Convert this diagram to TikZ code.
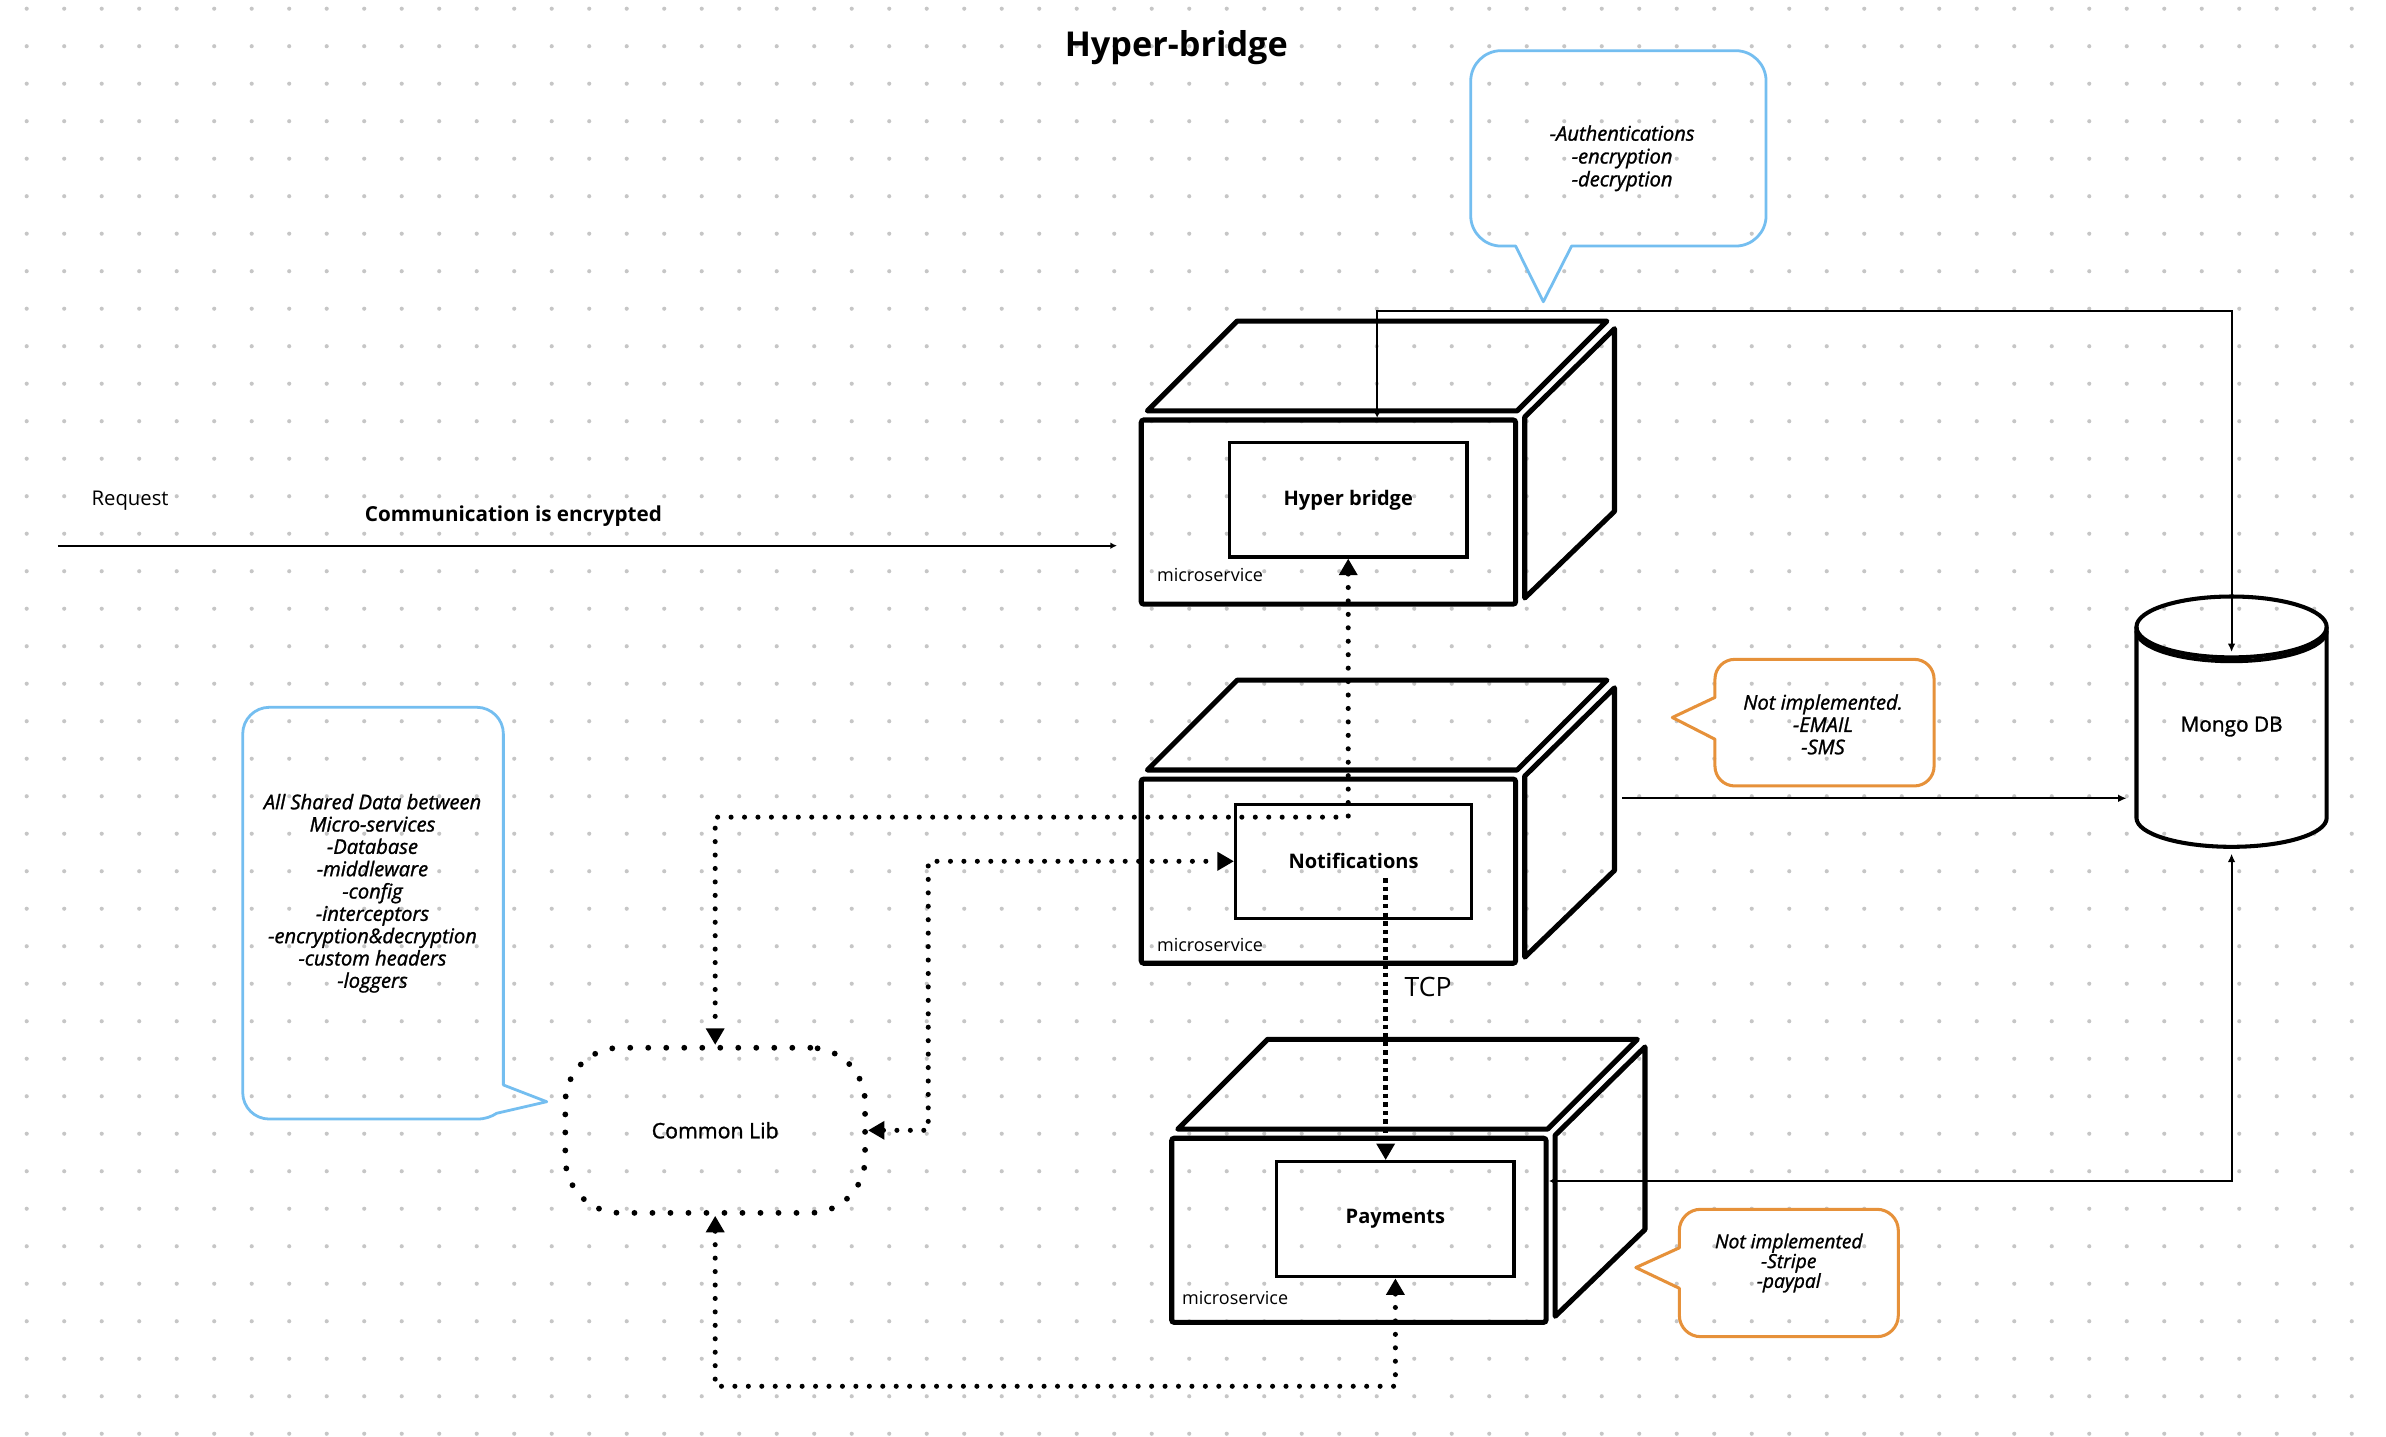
\documentclass[tikz,border=0pt]{standalone}
\usepackage{fontspec}
\setmainfont{Open Sans}
\newfontfamily\medfont[FakeBold=1.3]{Open Sans}
\usetikzlibrary{arrows.meta}
\definecolor{bluec}{RGB}{116,190,240}
\definecolor{orangec}{RGB}{230,145,58}
\definecolor{gridc}{RGB}{198,198,198}
\def\uu{0.6pt}
\newcommand\myfs[2]{\fontsize{#1pt}{#2pt}\selectfont}
\tikzset{
  cubeline/.style={line width=2pt, line join=round},
  front/.style={draw, line width=2pt, rounded corners=1pt, minimum width=246*\uu, minimum height=121*\uu, inner sep=0pt, outer sep=0pt},
  inbox/.style={draw, line width=1.3pt, inner sep=0pt, minimum width=156*\uu, minimum height=75*\uu, font=\bfseries\myfs{7.9}{9}},
  mslabel/.style={anchor=west, inner sep=0pt, font=\myfs{7.1}{8}},
  conn/.style={line width=0.75pt},
  dotline/.style={line width=2pt, dash pattern=on 0pt off 5.3pt, line cap=round, arrows={Triangle[length=6.5pt,width=7pt]-Triangle[length=6.5pt,width=7pt]}},
  tcpline/.style={line width=1.8pt, dash pattern=on 1.8pt off 1.6pt, -{Triangle[length=6.5pt,width=7pt]}},
  commonlib/.style={draw, line width=2.3pt, dash pattern=on 0pt off 7.1pt, line cap=round, rounded corners=21.6pt, minimum width=197*\uu, minimum height=108.5*\uu, font=\medfont\myfs{8.4}{10}},
  mongoline/.style={line width=1.6pt, line join=round},
  bcall/.style={draw=bluec, line width=1.1pt, line join=round},
  ocall/.style={draw=orangec, line width=1.2pt, line join=round},
  ctext/.style={align=center, font=\medfont\itshape\myfs{7.95}{9}, inner sep=0pt},
}
\newcommand\drawcube[3]{%
  \draw[cubeline] (#2+4,#3-6) -- (#2+63,#3-65) -- (#2+306,#3-65) -- (#2+247,#3-6) -- cycle;
  \draw[cubeline] (#2+252,#3-2) -- (#2+311,#3-60) -- (#2+311,#3+60) -- (#2+252,#3+117) -- cycle;
  \node[front] (#1) at (#2+123,#3+60.5) {};
}
\begin{document}
\begin{tikzpicture}[x=0.6pt,y=-0.6pt]
\useasboundingbox (0,0) rectangle (1568,944);
\fill[white] (0,0) rectangle (1568,944);
% dot grid
\foreach \i in {0,...,62} {
  \foreach \j in {0,...,38} {
    \fill[gridc] ({17.55+24.644*\i},{5.72+24.644*\j}) circle[radius=1.35];
  }
}
% title
\node[font=\bfseries\myfs{13.5}{16}] (title) at (773,31) {Hyper-bridge};

% cubes
\drawcube{hbF}{750}{276}
\drawcube{ntF}{750}{512}
\drawcube{pyF}{770}{748}

\node[inbox] (hb) at (886,328.5) {Hyper bridge};
\node[inbox, minimum width=155*\uu] (nt) at (889.5,566) {Notifications};
\node[inbox, minimum height=75.6*\uu] (py) at (917,801.2) {Payments};

\node[mslabel] (ms1) at (760,378) {microservice};
\node[mslabel] (ms2) at (760,621) {microservice};
\node[mslabel] (ms3) at (776.5,853.2) {microservice};

% request
\node[font=\myfs{8}{9}] (req) at (85.5,329) {Request};
\node[font=\bfseries\myfs{8.15}{9}] (enc) at (337.4,339.3) {Communication is encrypted};
\coordinate (reqstart) at (38,358.6);
\draw[conn, -{Latex[length=2.6pt,width=2.6pt]}, shorten >=16*\uu] (reqstart) -- (reqstart -| hbF.west);

% Mongo DB
\draw[mongoline] (1466.5,412) ellipse[x radius=62.5, y radius=20];
\draw[mongoline] (1404,414.5) .. controls (1404,425.5) and (1432,434.5) .. (1466.5,434.5) .. controls (1501,434.5) and (1529,425.5) .. (1529,414.5);
\draw[mongoline] (1404,412) -- (1404,537.5) .. controls (1404,548) and (1432,556.5) .. (1466.5,556.5) .. controls (1501,556.5) and (1529,548) .. (1529,537.5) -- (1529,412);
\node[font=\medfont\myfs{8.2}{9}] (mongo) at (1466.5,477.5) {Mongo DB};
\coordinate (mtop) at (1466.5,428.5);
\coordinate (mleft) at (1397.5,524.6);
\coordinate (mbot) at (1466.5,561);

% solid connectors
\coordinate (hbin) at (905,274.5);
\draw[conn, {Latex[length=2.2pt,width=2.4pt]}-{Latex[length=3.3pt,width=3pt]}] (hbin) -- (905,204.4) -| (mtop);
\coordinate (ntout) at (1066,524.6);
\draw[conn, -{Latex[length=3.3pt,width=3pt]}] (ntout) -- (mleft);
\coordinate (pyin) at (1018,776.1);
\draw[conn, {Latex[length=2.2pt,width=2.4pt]}-{Latex[length=3.3pt,width=3pt]}] (pyin) -| (mbot);

% common lib and dotted connectors
\node[commonlib] (cl) at (470,742.8) {Common Lib};
\draw[dotline] (hb.south) -- (886,537) -| (cl.north);
\draw[dotline] (cl.east) -- (610,742.8) |- (nt.west);
\draw[dotline] (cl.south) -- (470,911) -| (py.south);
\coordinate (tcps) at (910.6,577);
\draw[tcpline] (tcps) -- (tcps |- py.north);
\node[font=\myfs{10.5}{12}] (tcp) at (938.5,648.5) {TCP};

% callouts
\draw[bcall] (986.5,33.3) -- (1140.6,33.3) .. controls (1151.64,33.3) and (1160.6,42.26) .. (1160.6,53.3) -- (1160.6,141.7) .. controls (1160.6,152.74) and (1151.64,161.7) .. (1140.6,161.7) -- (1032.8,161.7) -- (1014.2,198.3) -- (996,161.7) -- (986.5,161.7) .. controls (975.46,161.7) and (966.5,152.74) .. (966.5,141.7) -- (966.5,53.3) .. controls (966.5,42.26) and (975.46,33.3) .. (986.5,33.3) -- cycle;
\node[ctext] (c1) at (1066,104) {-Authentications\\-encryption\\-decryption};

\draw[bcall] (177,464.8) -- (313.3,464.8) .. controls (322.96,464.8) and (330.8,472.64) .. (330.8,482.3) -- (330.8,713) -- (359.3,724) -- (326.4,731.6) .. controls (323,733.8) and (319,735.4) .. (313.3,735.4) -- (177,735.4) .. controls (167.34,735.4) and (159.5,727.74) .. (159.5,717.9) -- (159.5,482.3) .. controls (159.5,472.64) and (167.34,464.8) .. (177,464.8) -- cycle;
\node[ctext, font=\medfont\itshape\myfs{7.95}{8.8}] (c2) at (244.8,587) {All Shared Data between\\Micro-services\\-Database\\-middleware\\-config\\-interceptors\\-encryption\&decryption\\-custom headers\\-loggers};

\draw[ocall] (1140,433.3) -- (1258,433.3) .. controls (1265.18,433.3) and (1271,439.12) .. (1271,446.3) -- (1271,503.5) .. controls (1271,510.68) and (1265.18,516.5) .. (1258,516.5) -- (1140,516.5) .. controls (1132.82,516.5) and (1127,510.68) .. (1127,503.5) -- (1127,485.8) -- (1099,471.5) -- (1127,458.3) -- (1127,446.3) .. controls (1127,439.12) and (1132.82,433.3) .. (1140,433.3) -- cycle;
\node[ctext, font=\medfont\itshape\myfs{7.95}{8.8}] (c3) at (1198,476) {Not implemented.\\-EMAIL\\-SMS};

\draw[ocall] (1117.6,794.7) -- (1233.5,794.7) .. controls (1241.23,794.7) and (1247.5,800.97) .. (1247.5,808.7) -- (1247.5,864.4) .. controls (1247.5,872.13) and (1241.23,878.4) .. (1233.5,878.4) -- (1117.6,878.4) .. controls (1109.87,878.4) and (1103.6,872.13) .. (1103.6,864.4) -- (1103.6,846.6) -- (1075,833) -- (1103.6,820) -- (1103.6,808.7) .. controls (1103.6,800.97) and (1109.87,794.7) .. (1117.6,794.7) -- cycle;
\node[ctext, font=\medfont\itshape\myfs{7.6}{7.8}] (c4) at (1175.5,830) {Not implemented\\-Stripe\\-paypal};
\end{tikzpicture}
\end{document}
